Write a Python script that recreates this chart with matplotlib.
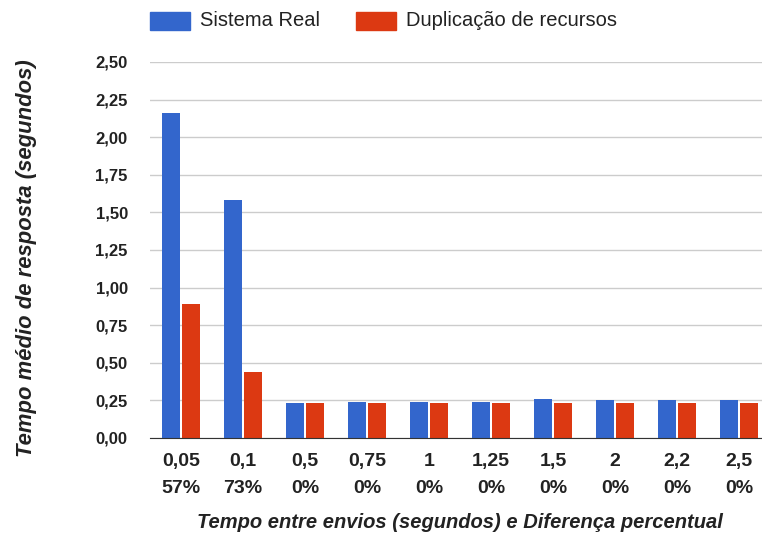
import matplotlib.pyplot as plt
import numpy as np
from matplotlib.patches import Rectangle

plt.rcParams['font.family'] = ['Liberation Sans', 'DejaVu Sans']

# intervalos entre envios e diferenca percentual
intervalos = ['0,05', '0,1', '0,5', '0,75', '1', '1,25', '1,5', '2', '2,2', '2,5']
diferenca = ['57%', '73%', '0%', '0%', '0%', '0%', '0%', '0%', '0%', '0%']

sistema_real = [2.16, 1.58, 0.23, 0.24, 0.24, 0.24, 0.26, 0.25, 0.25, 0.25]
duplicacao = [0.89, 0.44, 0.23, 0.23, 0.23, 0.23, 0.23, 0.23, 0.23, 0.23]

series = ['Sistema Real', 'Duplicação de recursos']

azul = '#3366cc'
vermelho = '#dc3912'
texto = '#222222'

W, H = 762, 538
fig = plt.figure(figsize=(W/100, H/100), dpi=100)
ax = fig.add_axes([150/W, 100/H, 620/W, 376/H])

x = np.arange(len(intervalos))
w = 0.29
ax.bar(x - w/2 - 0.015, sistema_real, w, color=azul, zorder=3)
ax.bar(x + w/2 + 0.015, duplicacao, w, color=vermelho, zorder=3)

ax.set_xlim(-0.5, len(intervalos) - 0.5)
ax.set_ylim(0, 2.5)
yt = np.arange(0, 2.51, 0.25)
ax.set_yticks(yt)
ax.set_yticklabels(['{:.2f}'.format(v).replace('.', ',') for v in yt],
                   fontsize=12, fontweight='bold', color=texto)
ax.set_xticks(x)
ax.set_xticklabels([a + '\n' + b for a, b in zip(intervalos, diferenca)],
                   fontsize=14, fontweight='bold', color=texto, linespacing=1.78)

ax.grid(axis='y', color='#cccccc', linewidth=1, zorder=0)
for s in ['top', 'right', 'left']:
    ax.spines[s].set_visible(False)
ax.spines['bottom'].set_color('#333333')
ax.spines['bottom'].set_zorder(4)
ax.tick_params(axis='both', length=0)
ax.tick_params(axis='y', pad=16)
ax.tick_params(axis='x', pad=10.5)

# titulos dos eixos
fig.text(27/W, 1 - 258/H, 'Tempo médio de resposta (segundos)', rotation=90,
         ha='center', va='center', fontsize=15.8, fontweight='bold', style='italic', color=texto)
fig.text(460/W, 1 - 523/H, 'Tempo entre envios (segundos) e Diferença percentual',
         ha='center', va='center', fontsize=14.5, fontweight='bold', style='italic', color=texto)

# legenda no topo
for x0, cor, nome in [(150, azul, series[0]), (356, vermelho, series[1])]:
    fig.add_artist(Rectangle((x0/W, 1 - 30/H), 40/W, 18/H, color=cor,
                             transform=fig.transFigure))
    fig.text((x0 + 50)/W, 1 - 21/H, nome, ha='left', va='center',
             fontsize=14.5, color=texto)

fig.savefig('out.png', dpi=100)
